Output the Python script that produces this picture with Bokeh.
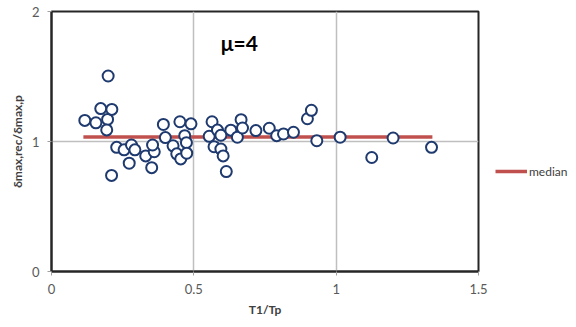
from bokeh.plotting import figure
from bokeh.models import Range1d, FixedTicker, Label, Legend, LegendItem
from bokeh.layouts import row
from bokeh.embed import file_html
from bokeh.resources import INLINE

t_ratio = [0.117, 0.156, 0.173, 0.199, 0.197, 0.212, 0.194, 0.211, 0.229, 0.255,
           0.281, 0.293, 0.273, 0.331, 0.352, 0.361, 0.355, 0.393, 0.400, 0.427,
           0.440, 0.454, 0.451, 0.490, 0.468, 0.474, 0.475, 0.554, 0.564, 0.583,
           0.595, 0.571, 0.595, 0.603, 0.614, 0.630, 0.653, 0.666, 0.671, 0.718,
           0.765, 0.791, 0.815, 0.850, 0.899, 0.913, 0.932, 1.014, 1.125, 1.200,
           1.335]
d_ratio = [1.162, 1.144, 1.253, 1.504, 1.170, 1.247, 1.089, 0.739, 0.955, 0.936,
           0.973, 0.936, 0.833, 0.889, 0.799, 0.921, 0.973, 1.131, 1.030, 0.967,
           0.905, 0.866, 1.152, 1.136, 1.045, 0.991, 0.910, 1.040, 1.152, 1.088,
           1.048, 0.960, 0.942, 0.889, 0.769, 1.087, 1.033, 1.168, 1.104, 1.084,
           1.102, 1.045, 1.058, 1.071, 1.175, 1.240, 1.006, 1.033, 0.877, 1.027,
           0.955]
median_x = [0.112, 1.338]
median_y = [1.035, 1.035]
x_ticks = [0, 0.5, 1, 1.5]
y_ticks = [0, 1, 2]

FONT = "Lato"
MEDIAN_COLOR = "#c0504d"

p = figure(width=488, height=319, output_backend="svg", toolbar_location=None,
           x_range=Range1d(0, 1.5), y_range=Range1d(0, 2),
           min_border_left=51, min_border_right=10, min_border_top=11, min_border_bottom=10)
p.outline_line_color = "#262626"
p.outline_line_width = 2
p.background_fill_color = "white"

p.xaxis.ticker = FixedTicker(ticks=x_ticks)
p.yaxis.ticker = FixedTicker(ticks=y_ticks)
p.xaxis.major_label_overrides = {0: "0", 0.5: "0.5", 1: "1", 1.5: "1.5"}
for ax in (p.xaxis, p.yaxis):
    ax.axis_line_color = "#262626"
    ax.axis_line_width = 2
    ax.major_tick_line_color = "#a0a0a0"
    ax.major_tick_in = 0
    ax.major_tick_out = 4
    ax.minor_tick_line_color = None
    ax.major_label_text_font = FONT
    ax.major_label_text_font_size = "13px"
    ax.major_label_text_color = "#595959"
    ax.axis_label_text_font = FONT
    ax.axis_label_text_font_size = "12px"
    ax.axis_label_text_font_style = "bold"
    ax.axis_label_text_color = "#404040"
p.xaxis.major_label_standoff = 8
p.yaxis.major_label_standoff = 8
p.xaxis.axis_label = "T1/Tp"
p.yaxis.axis_label = "δmax,rec/δmax,p"
p.xaxis.axis_label_standoff = 5
p.yaxis.axis_label_standoff = 4

p.xgrid.ticker = FixedTicker(ticks=[0.5, 1])
p.ygrid.ticker = FixedTicker(ticks=[1])
p.grid.grid_line_color = "#bfbfbf"
p.grid.grid_line_width = 1.5

p.line(median_x, median_y, line_color=MEDIAN_COLOR, line_width=3.5)
p.scatter(t_ratio, d_ratio, size=11, marker="circle", fill_color="white",
          line_color="#1f3a6e", line_width=2)

p.add_layout(Label(x=0.66, y=1.76, text="μ=4", text_font=FONT, text_font_size="21px",
                   text_font_style="bold", text_color="black",
                   text_align="center", text_baseline="middle"))

# legend panel to the right of the plot area
lg = figure(width=84, height=319, output_backend="svg", toolbar_location=None,
            x_range=Range1d(10, 11), y_range=Range1d(10, 11),
            x_axis_type=None, y_axis_type=None,
            min_border_left=0, min_border_right=0, min_border_top=0, min_border_bottom=0)
lg.outline_line_color = None
lg.grid.visible = False
med_key = lg.line(median_x, median_y, line_color=MEDIAN_COLOR, line_width=3.5)
legend = Legend(items=[LegendItem(label="median", renderers=[med_key])],
                location=(7, 90), glyph_width=32, glyph_height=20,
                label_standoff=2, padding=0, margin=0, spacing=0,
                border_line_alpha=0, background_fill_alpha=0,
                label_text_font=FONT, label_text_font_size="12px",
                label_text_color="#404040")
lg.add_layout(legend, "center")

layout = row(p, lg)
open("out.html", "w").write(file_html(layout, INLINE))
